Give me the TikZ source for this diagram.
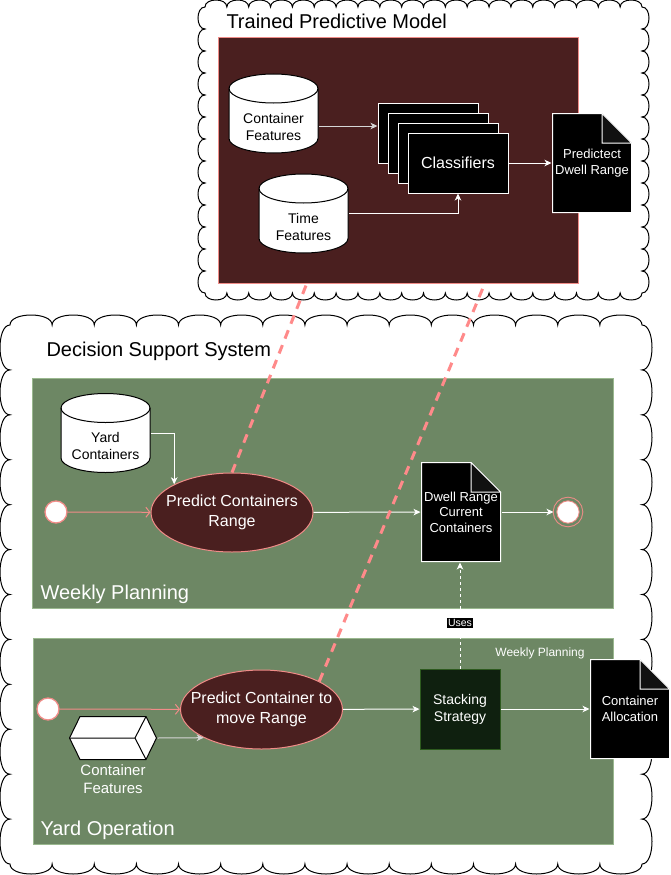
\documentclass[tikz,border=0pt]{standalone}
\usepackage{fontspec}
\setmainfont{Liberation Sans}
\usepackage{xcolor}
\usepackage{tikz}
\usetikzlibrary{arrows.meta, positioning, shapes.geometric}
\definecolor{modelred}{HTML}{4A1F1F}
\definecolor{softsalmon}{HTML}{F08C88}
\definecolor{dashsalmon}{HTML}{FF8A8A}
\definecolor{yardgreen}{HTML}{6D8764}
\definecolor{yardedge}{HTML}{9AB88F}
\definecolor{stackgreen}{HTML}{0F200F}
\definecolor{stackedge}{HTML}{2D5A1E}
\definecolor{foldgray}{HTML}{111111}
\definecolor{arrowgray}{HTML}{D6D6D6}

% scalloped frame on cusp rectangle (x0,y0)-(x1,y1): bumps across, bumps down, bulge
\newcommand{\scallopframe}[7]{%
  \pgfmathsetmacro{\bw}{(#3-#1)/#5}%
  \pgfmathsetmacro{\bh}{(#4-#2)/#6}%
  \pgfmathsetmacro{\bk}{4*#7/3}%
  \draw[cloudline] (#1,#2)
    \foreach \i in {1,...,#5} { .. controls +(0,-\bk) and +(0,-\bk) .. ++(\bw,0) }
    \foreach \i in {1,...,#6} { .. controls +(\bk,0) and +(\bk,0) .. ++(0,\bh) }
    \foreach \i in {1,...,#5} { .. controls +(0,\bk) and +(0,\bk) .. ++(-\bw,0) }
    \foreach \i in {1,...,#6} { .. controls +(-\bk,0) and +(-\bk,0) .. ++(0,-\bh) }
    -- cycle;
}

\begin{document}
\begin{tikzpicture}[
  x=1pt, y=-1pt, line width=1pt,
  cloudline/.style={draw=black, fill=white},
  modelbox/.style={rectangle, draw=softsalmon, fill=modelred, inner sep=0pt},
  lane/.style={rectangle, draw=yardedge, fill=yardgreen, inner sep=0pt},
  headline/.style={anchor=base west, inner sep=0pt, font=\fontsize{20}{24}\selectfont},
  lanetitle/.style={headline, text=white},
  dbtext/.style={align=center, font=\fontsize{14}{17}\selectfont},
  dbcyl/.style={rectangle, minimum width=90pt, minimum height=80pt, inner sep=0pt,
    path picture={
      \draw[black, fill=white] ([shift={(-44.5pt,25pt)}]path picture bounding box.center) -- ++(0pt,-50pt)
        arc[start angle=180, end angle=360, x radius=44.5pt, y radius=14.5pt] -- ++(0pt,50pt)
        arc[start angle=0, end angle=180, x radius=44.5pt, y radius=14.5pt] -- cycle;
      \draw[black] ([shift={(-44.5pt,25pt)}]path picture bounding box.center)
        arc[start angle=180, end angle=360, x radius=44.5pt, y radius=14.5pt];
    }},
  crate/.style={rectangle, minimum width=88pt, minimum height=44pt, inner sep=0pt,
    path picture={
      \draw[black, fill=white] ([shift={(-43.5pt,0pt)}]path picture bounding box.center) -- ++(10.5pt,21.5pt)
        -- ++(66pt,0pt) -- ++(10.5pt,-21.5pt) -- ++(-10.5pt,-21.5pt) -- ++(-66pt,0pt) -- cycle;
      \draw[black] ([shift={(-43.5pt,0pt)}]path picture bounding box.center) -- ++(65.5pt,0pt)
        -- ++(11pt,21.5pt) ++(-11pt,-21.5pt) -- ++(11pt,-21.5pt);
    }},
  docnode/.style={rectangle, minimum width=80pt, minimum height=100pt, inner sep=0pt, text=white,
    align=center, font=\fontsize{13}{15.6}\selectfont,
    path picture={
      \draw[white, fill=black] ([shift={(-39.5pt,49.5pt)}]path picture bounding box.center) -- ++(49.5pt,0pt)
        -- ++(29.5pt,-29.5pt) -- ++(0pt,-69.5pt) -- ++(-79pt,0pt) -- cycle;
      \draw[white, fill=foldgray] ([shift={(10pt,49.5pt)}]path picture bounding box.center) -- ++(0pt,-29.5pt)
        -- ++(29.5pt,0pt) -- cycle;
    }},
  stackbox/.style={rectangle, draw=white, fill=black, minimum width=100pt, minimum height=60pt, text=white,
    font=\fontsize{16}{19}\selectfont},
  task/.style={ellipse, draw=softsalmon, fill=modelred, minimum width=162pt, minimum height=79pt,
    inner xsep=-15pt, inner ysep=0pt, text=white, align=center, font=\fontsize{16}{20}\selectfont},
  strategy/.style={rectangle, draw=stackedge, fill=stackgreen, minimum size=80pt, text=white, align=center,
    font=\fontsize{14}{17}\selectfont},
  startev/.style={circle, draw=softsalmon, fill=white, line width=1.3pt, minimum size=22pt, inner sep=0pt},
  endev/.style={circle, draw=softsalmon, fill=white, double=yardgreen, double distance=2.5pt,
    minimum size=26pt, inner sep=0pt, outer sep=1.5pt},
  arrow/.style={-{Stealth[length=7pt, width=6.5pt, inset=2pt]}, draw=white},
  greyarrow/.style={arrow, draw=arrowgray},
  openarrow/.style={-{Straight Barb[length=4pt, width=10pt]}, draw=softsalmon},
  link/.style={draw=dashsalmon, line width=3pt, dash pattern=on 9pt off 7pt},
  uses/.style={fill=black, text=white, inner sep=1pt, font=\fontsize{10.5}{12}\selectfont},
  note/.style={text=white, font=\fontsize{12}{14}\selectfont}
]
\useasboundingbox (0,0) rectangle (671,875);

% cloud frames
\scallopframe{205}{7}{642}{293}{20}{13}{7}
\scallopframe{10}{325}{642}{864}{15}{12}{10}

% trained model
\node[modelbox, minimum width=360pt, minimum height=245pt] (model) at (398,160.5) {};
\node[headline] (modeltitle) at (226,29) {Trained Predictive Model};
\node[dbcyl, label={[dbtext, yshift=-13pt]center:Container\\Features}] (cf) at (273.5,113.5) {};
\node[dbcyl, label={[dbtext, yshift=-13pt]center:Time\\Features}] (tf) at (303.5,213.5) {};
\foreach \k in {3,2,1}
  \node[stackbox] (cls\k) at (458-10*\k,163-10*\k) {};
\node[stackbox] (cls) at (458,163) {Classifiers};
\node[docnode] (pred) at (592,163) {Predictect\\Dwell Range};
\coordinate (m1) at (307,283);
\coordinate (m2) at (485,283);

\draw[greyarrow] ([yshift=-12.5pt]cf.east) -- ([yshift=-12.5pt]cf.east -| cls3.west);
\draw[arrow] (tf.east) -| (cls.south);
\draw[arrow] (cls) -- (pred);

% decision support system
\node[headline] (dsstitle) at (46,356) {Decision Support System};
\node[lane, minimum width=581pt, minimum height=230pt] (weekly) at (322.5,493) {};
\node[lane, minimum width=580pt, minimum height=206pt] (yardop) at (323,741) {};
\node[lanetitle] (weeklytitle) at (40,599) {Weekly Planning};
\node[lanetitle] (yardoptitle) at (40,835) {Yard Operation};

% weekly planning
\node[dbcyl, label={[dbtext, yshift=-13pt]center:Yard\\Containers}] (yard) at (105.5,433) {};
\node[startev] (start1) at (56,512) {};
\node[task] (e1) at (232,512.5) {Predict Containers\\Range};
\node[docnode] (dwell) at (461,512) {Dwell Range\\Current\\Containers};
\node[endev] (done) at (568,512) {};

\draw[openarrow] (start1) -- (e1);
\draw[arrow] (yard.east) -| (e1.154);
\draw[arrow] (e1) -- (dwell);
\draw[arrow] (dwell) -- (done);

% yard operation
\node[startev] (start2) at (48,709) {};
\node[crate, label={[dbtext, font=\fontsize{15}{18}\selectfont, text=white]below:Container\\Features}] (crate) at (113,738) {};
\node[task] (e2) at (261.5,709.5) {Predict Container to\\move Range};
\node[strategy] (stack) at (460,709) {Stacking\\Strategy};
\node[docnode] (alloc) at (630,709) {Container\\Allocation};
\node[note] (yardnote) at (540,653) {Weekly Planning};

\draw[openarrow] (start2) -- (e2);
\draw[greyarrow] (crate.east) -- (e2.206);
\draw[arrow] (e2) -- (stack);
\draw[arrow] (stack) -- (alloc);
\draw[arrow, dash pattern=on 3pt off 3pt] (stack.north) -- node[uses, pos=0.43] {Uses} (stack.north |- dwell.south);

% links to the model
\draw[link] (e1.north) -- (m1);
\draw[link] (e2.26) -- (m2);
\end{tikzpicture}
\end{document}
